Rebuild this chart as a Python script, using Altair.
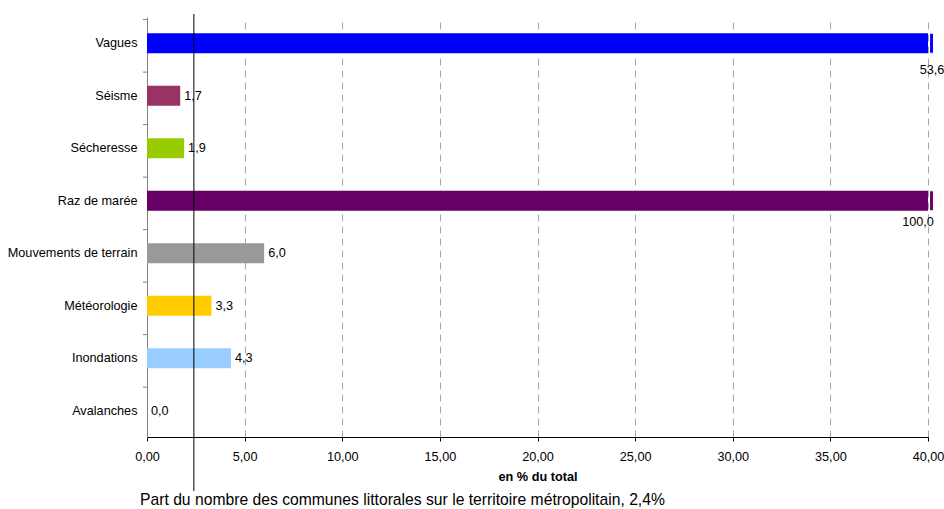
import altair as alt
import pandas as pd

# Natural hazards affecting coastal communes, share of the national total (%)
categories = ["Vagues", "Séisme", "Sécheresse", "Raz de marée",
              "Mouvements de terrain", "Météorologie", "Inondations", "Avalanches"]
values = [53.6, 1.7, 1.9, 100.0, 6.0, 3.3, 4.3, 0.0]
colors = ["#0000FF", "#993366", "#99CC00", "#660066",
          "#999999", "#FFCC00", "#99CCFF", "#FFFFFF"]
x_ticks = [0, 5, 10, 15, 20, 25, 30, 35, 40]
axis_max = 40
national_share = 2.4
caption = "Part du nombre des communes littorales sur le territoire métropolitain, 2,4%"

df = pd.DataFrame({"cat": categories, "value": values})
df["shown"] = df["value"].clip(upper=axis_max)
df["label"] = df["value"].map(lambda v: f"{v:.1f}".replace(".", ","))
df["over"] = df["value"] > axis_max
# small segment beyond the axis end marking a broken (truncated) bar
df["brk0"] = axis_max + 0.08
df["brk1"] = axis_max + 0.28

font = "Liberation Sans"
fs = 12.7
y_enc = alt.Y("cat:N", sort=categories, title=None,
              axis=alt.Axis(ticks=False, domainColor="#808080", labelPadding=10,
                            labelFontSize=fs, labelColor="black", labelFont=font))
x_scale = alt.Scale(domain=[0, axis_max], nice=False)

base = alt.Chart(df)

bars = base.mark_bar(size=20).encode(
    x=alt.X("shown:Q", scale=x_scale, title="en % du total",
            axis=alt.Axis(values=x_ticks,
                          labelExpr="replace(format(datum.value, '.2f'), '.', ',')",
                          labelFlush=False,
                          grid=True, gridDash=[7, 5], gridColor="#A6A6A6",
                          domainColor="black", tickColor="black", tickSize=4,
                          labelPadding=9, labelFontSize=fs, labelColor="black",
                          labelFont=font, titleFont=font, titleFontSize=fs,
                          titleFontWeight="bold", titleColor="black",
                          titlePadding=8)),
    y=y_enc,
    color=alt.Color("cat:N", scale=alt.Scale(domain=categories, range=colors), legend=None),
)

breaks = base.transform_filter("datum.over").mark_bar(size=20, stroke="white", strokeWidth=1).encode(
    x=alt.X("brk0:Q", scale=x_scale),
    x2="brk1:Q",
    y=alt.Y("cat:N", sort=categories),
    color=alt.Color("cat:N", scale=alt.Scale(domain=categories, range=colors), legend=None),
)

yticks = base.mark_rule(color="#808080").encode(
    y=alt.Y("cat:N", sort=categories, bandPosition=0),
    x=alt.value(-4), x2=alt.value(0),
)

labels = base.transform_filter("!datum.over").mark_text(
    align="left", baseline="middle", dx=4, fontSize=fs, font=font, color="black"
).encode(x=alt.X("shown:Q", scale=x_scale), y=alt.Y("cat:N", sort=categories), text="label:N")

over_vagues = base.transform_filter("datum.over && datum.value < 60").mark_text(
    align="center", baseline="middle", dx=4, dy=27, fontSize=fs, font=font, color="black"
).encode(x=alt.X("shown:Q", scale=x_scale), y=alt.Y("cat:N", sort=categories), text="label:N")

over_raz = base.transform_filter("datum.over && datum.value >= 60").mark_text(
    align="center", baseline="middle", dx=-10, dy=21, fontSize=fs, font=font, color="black"
).encode(x=alt.X("shown:Q", scale=x_scale), y=alt.Y("cat:N", sort=categories), text="label:N")

share_line = alt.Chart(pd.DataFrame({"v": [national_share]})).mark_rule(
    color="black", strokeWidth=1
).encode(x=alt.X("v:Q", scale=x_scale), y=alt.value(-3), y2=alt.value(474))

caption_text = alt.Chart(pd.DataFrame({"t": [caption]})).mark_text(
    align="left", baseline="middle", fontSize=15.7, font=font, color="black"
).encode(x=alt.value(-7), y=alt.value(483), text="t:N")

chart = alt.layer(
    bars, breaks, yticks, labels, over_vagues, over_raz, share_line, caption_text
).properties(
    width=781, height=420,
    autosize=alt.AutoSizeParams(type="none"),
    padding={"left": 147, "top": 17, "right": 16, "bottom": 72},
    background="white",
).configure_view(stroke=None)

chart.save("out.html", embed_options={"renderer": "svg", "actions": False})
